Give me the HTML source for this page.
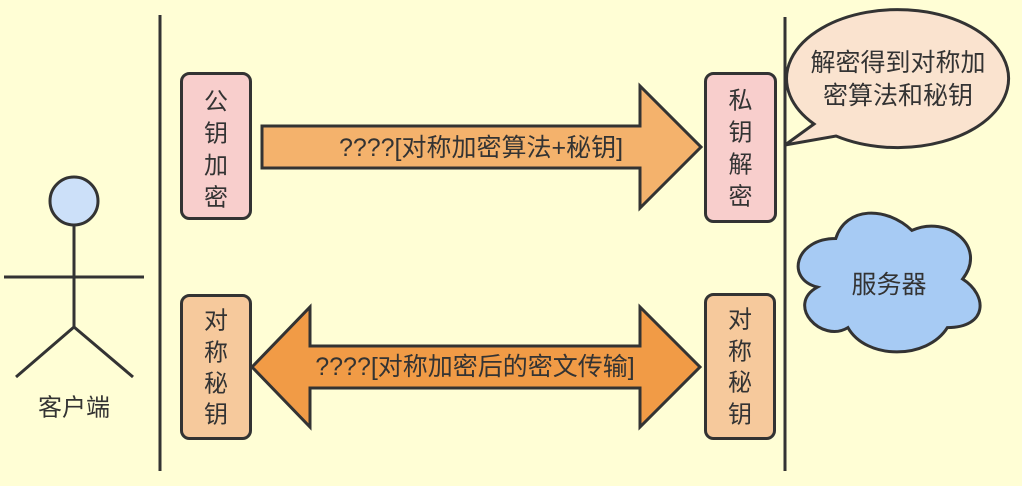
<!DOCTYPE html>
<html>
<head>
<meta charset="utf-8">
<style>
html,body{margin:0;padding:0;background:#fffed5;}
svg{display:block;}
text{font-family:"Liberation Sans","Noto Sans CJK SC",sans-serif;fill:#333;}
</style>
</head>
<body>
<svg width="1022" height="486" viewBox="0 0 1022 486" xmlns="http://www.w3.org/2000/svg">
<rect x="0" y="0" width="1022" height="486" fill="#fffed5"/>

<!-- vertical lines -->
<line x1="160" y1="15" x2="160" y2="471" stroke="#333" stroke-width="3"/>
<line x1="785" y1="17" x2="785" y2="471" stroke="#333" stroke-width="3"/>

<!-- actor -->
<circle cx="74" cy="201" r="24" fill="#cce0f9" stroke="#333" stroke-width="3"/>
<line x1="74" y1="225" x2="74" y2="327" stroke="#333" stroke-width="3"/>
<line x1="4" y1="277" x2="144" y2="277" stroke="#333" stroke-width="3"/>
<line x1="74" y1="327" x2="16" y2="377" stroke="#333" stroke-width="3"/>
<line x1="74" y1="327" x2="133" y2="377" stroke="#333" stroke-width="3"/>
<text x="74" y="408" font-size="24" text-anchor="middle" dominant-baseline="central">客户端</text>

<!-- boxes -->
<rect x="181.5" y="73.5" width="69" height="145" rx="8" fill="#f8cecc" stroke="#333" stroke-width="3"/>
<g font-size="24" text-anchor="middle" dominant-baseline="central">
<text x="216" y="102">公</text><text x="216" y="134">钥</text><text x="216" y="166">加</text><text x="216" y="198">密</text>
</g>
<rect x="705.5" y="73.5" width="70" height="148" rx="8" fill="#f8cecc" stroke="#333" stroke-width="3"/>
<g font-size="24" text-anchor="middle" dominant-baseline="central">
<text x="740.5" y="101">私</text><text x="740.5" y="133">钥</text><text x="740.5" y="165">解</text><text x="740.5" y="197">密</text>
</g>
<rect x="181.5" y="295.5" width="69" height="143" rx="8" fill="#f6c99c" stroke="#333" stroke-width="3"/>
<g font-size="24" text-anchor="middle" dominant-baseline="central">
<text x="216" y="321">对</text><text x="216" y="353">称</text><text x="216" y="384">秘</text><text x="216" y="415">钥</text>
</g>
<rect x="705.5" y="294.5" width="69" height="144" rx="8" fill="#f6c99c" stroke="#333" stroke-width="3"/>
<g font-size="24" text-anchor="middle" dominant-baseline="central">
<text x="740" y="320">对</text><text x="740" y="352">称</text><text x="740" y="383">秘</text><text x="740" y="415">钥</text>
</g>

<!-- top arrow -->
<polygon points="262,126 640,126 640,86 701,147 640,208 640,168 262,168" fill="#f4b26c" stroke="#333" stroke-width="3" stroke-linejoin="miter"/>
<text x="481" y="148" font-size="25" text-anchor="middle" dominant-baseline="central">????[对称加密算法+秘钥]</text>

<!-- bottom double arrow -->
<polygon points="252,367 310,307 310,346 640,346 640,307 700,367 640,427 640,388 310,388 310,427" fill="#f19b46" stroke="#333" stroke-width="3" stroke-linejoin="miter"/>
<text x="475" y="367" font-size="25" text-anchor="middle" dominant-baseline="central">????[对称加密后的密文传输]</text>

<!-- speech bubble -->
<path d="M 814 124 L 785 145 L 836 136 A 111 69 0 1 0 814 124 Z" fill="#fae3cf" stroke="#333" stroke-width="3" stroke-linejoin="miter"/>
<g font-size="25" text-anchor="middle" dominant-baseline="central">
<text x="898" y="63">解密得到对称加</text>
<text x="898" y="96">密算法和秘钥</text>
</g>

<!-- cloud -->
<path d="M 835.75 238.5 C 795.15 238.5 785 279 817.48 287.1 C 785 304.92 821.54 343.8 847.93 327.6 C 866.2 360 927.1 360 947.4 327.6 C 988 327.6 988 295.2 962.6 279 C 988 246.6 947.4 214.2 911.9 230.4 C 886.5 206.1 845.9 206.1 835.75 238.5 Z" fill="#a7cbf4" stroke="#333" stroke-width="3"/>
<text x="889" y="285" font-size="25" text-anchor="middle" dominant-baseline="central">服务器</text>
</svg>
</body>
</html>
